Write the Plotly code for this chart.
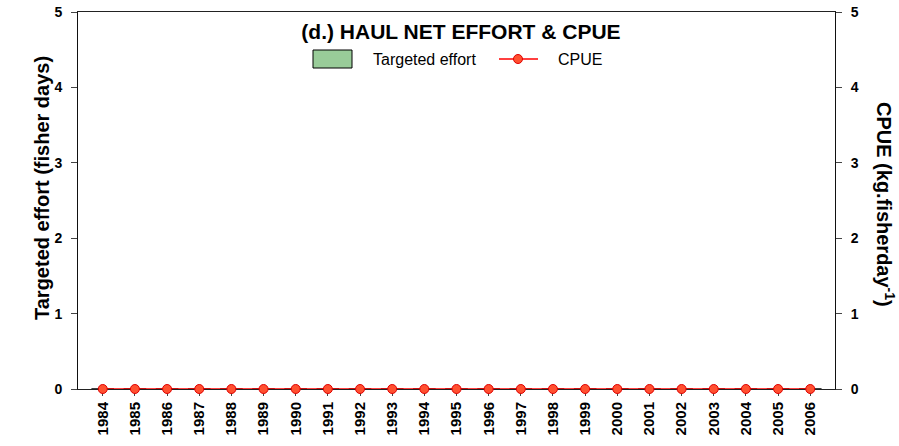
import plotly.graph_objects as go

years = [str(y) for y in range(1984, 2007)]
effort = [0] * 23
cpue = [0] * 23
y_ticks = [0, 1, 2, 3, 4, 5]

FONT = "Liberation Sans, Arial, sans-serif"

fig = go.Figure()
fig.add_trace(go.Bar(x=years, y=effort, name="Targeted effort",
                     marker=dict(color="#99CC99", line=dict(color="black", width=1)),
                     showlegend=False))
fig.add_trace(go.Scatter(x=years, y=cpue, name="CPUE", yaxis="y2", mode="lines+markers",
                         line=dict(color="#FF0000", width=1.5),
                         marker=dict(size=9, color="#FF5030", line=dict(color="#E00000", width=1)),
                         cliponaxis=False, showlegend=False))

L, R, T, B = 78, 64, 12, 57
W, H = 899, 446
pw, ph = W - L - R, H - T - B

def px(x):
    return (x - L) / pw

def py(y):
    return (H - B - y) / ph

shapes = [
    dict(type="rect", xref="paper", yref="paper", x0=px(313), x1=px(352), y0=py(68), y1=py(50),
         fillcolor="#99CC99", line=dict(color="black", width=1)),
    dict(type="line", xref="paper", yref="paper", x0=px(499), x1=px(538), y0=py(59), y1=py(59),
         line=dict(color="#FF0000", width=1.5)),
    dict(type="circle", xref="paper", yref="paper", x0=px(513.5), x1=px(522.5), y0=py(63.5), y1=py(54.5),
         fillcolor="#FF5030", line=dict(color="#E00000", width=1)),
]
annotations = [
    dict(text="Targeted effort", xref="paper", yref="paper", x=px(371), y=py(59), xanchor="left",
         yanchor="middle", showarrow=False, font=dict(family=FONT, size=16, color="black")),
    dict(text="CPUE", xref="paper", yref="paper", x=px(556), y=py(59), xanchor="left",
         yanchor="middle", showarrow=False, font=dict(family=FONT, size=16, color="black")),
    dict(text="<b>Targeted effort (fisher days)</b>", xref="paper", yref="paper", x=px(42), y=py(188),
         xanchor="center", yanchor="middle", textangle=-90, showarrow=False,
         font=dict(family=FONT, size=20, color="black")),
    dict(text="<b>CPUE (kg.fisherday<sup>-1</sup>)</b>", xref="paper", yref="paper", x=px(886), y=py(204),
         xanchor="center", yanchor="middle", textangle=90, showarrow=False,
         font=dict(family=FONT, size=20, color="black")),
]

ytickfont = dict(family=FONT, size=14, color="black", weight="bold")
xtickfont = dict(family=FONT, size=15, color="black", weight="bold")

fig.update_layout(
    width=W, height=H,
    margin=dict(l=L, r=R, t=T, b=B, autoexpand=False),
    paper_bgcolor="white", plot_bgcolor="white",
    font=dict(family=FONT, color="black"),
    title=dict(text="<b>(d.) HAUL NET EFFORT & CPUE</b>", x=461 / W, xref="container", xanchor="center",
               y=1 - 32 / H, yref="container", yanchor="middle",
               font=dict(family=FONT, size=21, color="black")),
    showlegend=False,
    shapes=shapes,
    annotations=annotations,
    bargap=0.3,
    xaxis=dict(type="category", range=[-0.77, 22.77], showgrid=False, zeroline=False,
               showline=True, linecolor="#222", linewidth=1, mirror=True,
               ticks="outside", ticklen=6, tickcolor="#444", tickangle=-90,
               tickfont=xtickfont, automargin=False, layer="below traces"),
    yaxis=dict(range=[0, 5], tickvals=y_ticks, showgrid=False, zeroline=False,
               showline=True, linecolor="#111", linewidth=1,
               ticks="outside", ticklen=6, tickcolor="#444",
               tickfont=ytickfont, automargin=False, ticklabelstandoff=6),
    yaxis2=dict(range=[0, 5], tickvals=y_ticks, overlaying="y", side="right", showgrid=False,
                zeroline=False, showline=True, linecolor="#111", linewidth=1,
                ticks="outside", ticklen=6, tickcolor="#444",
                tickfont=ytickfont, automargin=False, ticklabelstandoff=6),
)

fig.write_html("out.html", post_script="document.body.style.margin='0';",
               config={"displayModeBar": False})
